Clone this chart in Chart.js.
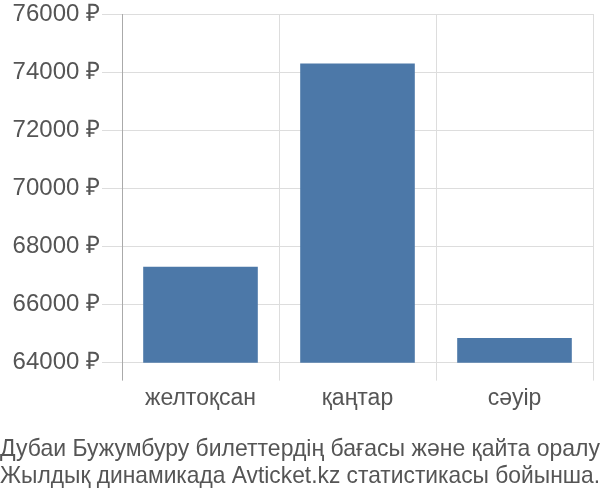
<!DOCTYPE html>
<html>
<head>
<meta charset="utf-8">
<script src="https://cdn.jsdelivr.net/npm/chart.js@4"></script>
<style>
	html, body { margin: 0; padding: 0; background: #fff; }
	#wrap { width: 600px; height: 500px; }
</style>
</head>
<body>
<div id="wrap"><canvas id="chart" width="600" height="500"></canvas></div>
<script>
const categories = ['желтоқсан', 'қаңтар', 'сәуір'];
const prices = [67300, 74300, 64850];
const captionLines = [
	'Дубаи Бужумбуру билеттердің бағасы және қайта оралу',
	'Жылдық динамикада Avticket.kz статистикасы бойынша.',
];

const textColor = '#555';
const fontFamily = '"Liberation Sans", Arial, sans-serif';

// x grid: first line doubles as the dark y-axis line
let xGridColor = (ctx) => (ctx.index === 0 ? '#aaa' : '#ddd');

new Chart(document.getElementById('chart'), {
	type: 'bar',
	data: {
		labels: categories,
		datasets: [{
			data: prices,
			backgroundColor: '#4c78a8',
			borderWidth: 0,
			categoryPercentage: 0.73,
			barPercentage: 1,
		}],
	},
	options: {
		responsive: false,
		animation: false,
		layout: { padding: 0 },
		plugins: {
			legend: { display: false },
			tooltip: { enabled: false },
			title: {
				display: true,
				position: 'bottom',
				text: captionLines,
				color: textColor,
				font: { family: fontFamily, size: 24, weight: 'normal', lineHeight: 1.12 },
				padding: { top: 20, bottom: 10 },
			},
		},
		scales: {
			x: {
				offset: true,
				grid: { offset: true, color: xGridColor, tickLength: 18, drawTicks: true },
				border: { display: false },
				ticks: { color: textColor, font: { family: fontFamily, size: 23 }, padding: 4 },
				// keep a small gap on the right of the plot
				afterFit: (scale) => { scale.paddingRight = 7; },
			},
			y: {
				min: 64000,
				max: 76000,
				grid: { color: '#ddd', tickLength: 20 },
				border: { display: true, color: '#aaa' },
				ticks: {
					stepSize: 2000,
					color: textColor,
					padding: 2,
					font: { family: fontFamily, size: 24, lineHeight: 1 },
					callback: (v) => v + ' ₽',
				},
				afterFit: (scale) => { scale.width = 122; },
			},
		},
	},
});
</script>
</body>
</html>
